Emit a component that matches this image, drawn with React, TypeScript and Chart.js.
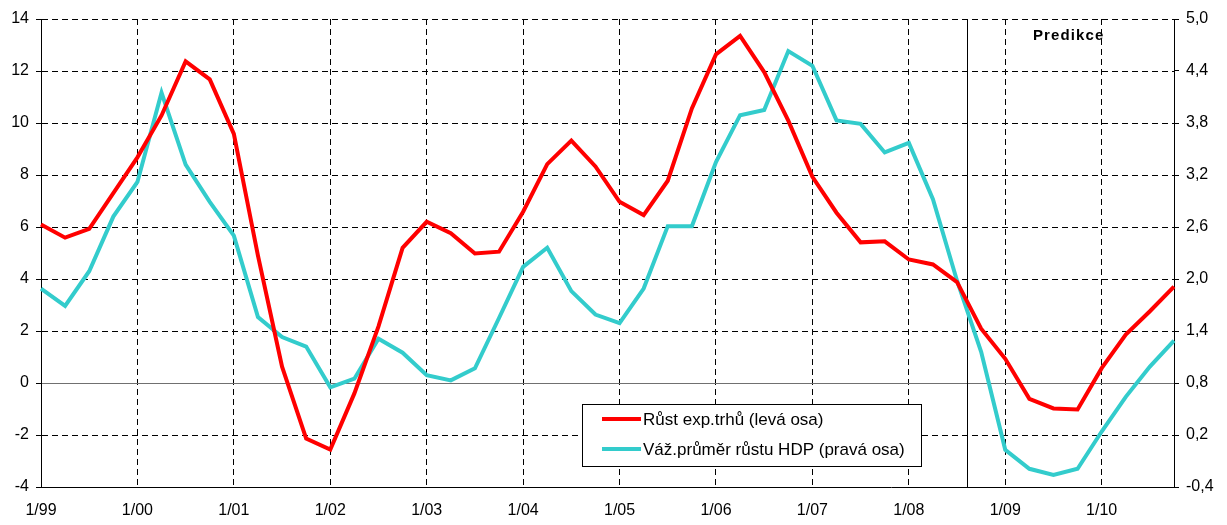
import React, { useEffect, useRef } from "react";
import { Chart, registerables } from "chart.js";

Chart.register(...registerables);

const years = ["99", "00", "01", "02", "03", "04", "05", "06", "07", "08", "09", "10"];
const quarters = ["1", "2", "3", "4"];
const categories: string[] = years.flatMap((y) => quarters.map((q) => `${q}/${y}`));

const exportMarketGrowth = [
  6.10, 5.59, 5.93, 7.3, 8.68, 10.29, 12.37, 11.68, 9.58, 4.9, 0.63, -2.14,
  -2.56, -0.40, 2.18, 5.20, 6.2, 5.76, 4.98, 5.05, 6.59, 8.42, 9.32, 8.33,
  6.97, 6.46, 7.78, 10.56, 12.64, 13.35, 11.96, 10.09, 7.93, 6.55, 5.41, 5.45,
  4.75, 4.56, 3.88, 2.09, 0.93, -0.61, -0.98, -1.02, 0.57, 1.86, 2.76, 3.71,
];

const gdpGrowthAvg = [
  1.89, 1.69, 2.09, 2.72, 3.12, 4.15, 3.32, 2.89, 2.50, 1.56, 1.33, 1.22,
  0.75, 0.85, 1.31, 1.15, 0.89, 0.83, 0.97, 1.55, 2.14, 2.36, 1.86, 1.59,
  1.49, 1.89, 2.61, 2.61, 3.35, 3.89, 3.95, 4.63, 4.46, 3.83, 3.79, 3.46,
  3.57, 2.92, 1.98, 1.16, 0.03, -0.19, -0.26, -0.19, 0.24, 0.64, 0.99, 1.29,
];

const leftTicks = [-4, -2, 0, 2, 4, 6, 8, 10, 12, 14];
const rightTicks = [-0.4, 0.2, 0.8, 1.4, 2.0, 2.6, 3.2, 3.8, 4.4, 5.0];

const seriesNames = ["Růst exp.trhů (levá osa)", "Váž.průměr růstu HDP (pravá osa)"];
const seriesColors = ["#FF0000", "#33CCCC"];
const predictionLabel = "Predikce";
const predictionStart = 38.4;

const FONT = '"Liberation Sans", Arial, sans-serif';

const overlayPlugin = {
  id: "overlay",
  beforeDatasetsDraw(chart: any) {
    const { ctx, chartArea, scales } = chart;
    const x = Math.round(scales.x.getPixelForValue(predictionStart)) + 0.5;
    ctx.save();
    ctx.strokeStyle = "#000";
    ctx.lineWidth = 1;
    ctx.beginPath();
    ctx.moveTo(x, chartArea.top);
    ctx.lineTo(x, chartArea.bottom);
    ctx.stroke();
    ctx.restore();
  },
  afterDraw(chart: any) {
    const { ctx } = chart;
    ctx.save();
    // Predikce label
    ctx.fillStyle = "#000";
    ctx.font = `bold 15px ${FONT}`;
    try {
      (ctx as any).letterSpacing = "1.1px";
    } catch (e) {}
    ctx.textAlign = "left";
    ctx.textBaseline = "alphabetic";
    ctx.fillText(predictionLabel, 1033, 39.5);
    try {
      (ctx as any).letterSpacing = "0px";
    } catch (e) {}

    // Legend box
    const bx = 582.5, by = 404.5, bw = 339, bh = 62;
    ctx.fillStyle = "#fff";
    ctx.fillRect(bx, by, bw, bh);
    ctx.strokeStyle = "#000";
    ctx.lineWidth = 1;
    ctx.strokeRect(bx, by, bw, bh);
    const rows = [419, 449];
    ctx.font = `17px ${FONT}`;
    ctx.textBaseline = "middle";
    seriesNames.forEach((name, i) => {
      ctx.strokeStyle = seriesColors[i];
      ctx.lineWidth = 4;
      ctx.beginPath();
      ctx.moveTo(602, rows[i]);
      ctx.lineTo(641, rows[i]);
      ctx.stroke();
      ctx.fillStyle = "#000";
      ctx.fillText(name, 643, rows[i] + 1);
    });
    ctx.restore();
  },
};

export default function App() {
  const canvasRef = useRef<HTMLCanvasElement | null>(null);

  useEffect(() => {
    if (!canvasRef.current) return;
    const chart = new Chart(canvasRef.current, {
      type: "line",
      data: {
        labels: categories,
        datasets: [
          {
            label: seriesNames[0],
            data: exportMarketGrowth,
            borderColor: seriesColors[0],
            backgroundColor: seriesColors[0],
            borderWidth: 4,
            pointRadius: 0,
            tension: 0,
            yAxisID: "y",
          },
          {
            label: seriesNames[1],
            data: gdpGrowthAvg,
            borderColor: seriesColors[1],
            backgroundColor: seriesColors[1],
            borderWidth: 4,
            pointRadius: 0,
            tension: 0,
            yAxisID: "y1",
          },
        ],
      },
      options: {
        responsive: false,
        animation: false,
        devicePixelRatio: 1,
        layout: { padding: { top: 19, left: 0, right: 0, bottom: 0 } },
        plugins: {
          legend: { display: false },
          tooltip: { enabled: false },
          title: { display: false },
        },
        scales: {
          x: {
            type: "category",
            offset: false,
            grid: {
              display: true,
              drawTicks: false,
              color: (c: any) => (c.index > 0 && c.index % 4 === 0 ? "#000" : "rgba(0,0,0,0)"),
              lineWidth: 1,
            },
            border: { display: true, color: "#000", width: 1, dash: [6, 4] },
            ticks: {
              autoSkip: false,
              maxRotation: 0,
              minRotation: 0,
              padding: 14,
              color: "#000",
              font: { family: FONT, size: 16 },
              callback: (_v: any, i: number) => (i % 4 === 0 ? categories[i] : ""),
            },
            afterFit: (s: any) => {
              s.height = 38;
            },
          },
          y: {
            type: "linear",
            position: "left",
            min: -4,
            max: 14,
            afterBuildTicks: (s: any) => {
              s.ticks = leftTicks.map((v) => ({ value: v }));
            },
            grid: {
              color: (c: any) => (c.tick && c.tick.value === 0 ? "#707070" : "#000"),
              tickColor: "#000",
              drawTicks: true,
              tickLength: 5,
              lineWidth: 1,
            },
            border: {
              display: true,
              color: "#000",
              width: 1,
              dash: (c: any) => (c.tick && c.tick.value === 0 ? [] : [6, 4]),
            },
            ticks: {
              padding: 7,
              color: "#000",
              font: { family: FONT, size: 16 },
              callback: (v: any) => String(v),
            },
            afterFit: (s: any) => {
              s.width = 41;
            },
          },
          y1: {
            type: "linear",
            position: "right",
            min: -0.4,
            max: 5.0,
            afterBuildTicks: (s: any) => {
              s.ticks = rightTicks.map((v) => ({ value: v }));
            },
            grid: {
              drawOnChartArea: false,
              drawTicks: true,
              tickLength: 5,
              tickColor: "#000",
              color: "#000",
            },
            border: { display: true, color: "#000", width: 1 },
            ticks: {
              padding: 7,
              color: "#000",
              font: { family: FONT, size: 16 },
              callback: (v: any) => Number(v).toFixed(1).replace(".", ","),
            },
            afterFit: (s: any) => {
              s.width = 53;
            },
          },
        },
      },
      plugins: [overlayPlugin],
    });
    return () => chart.destroy();
  }, []);

  return (
    <div style={{ position: "absolute", left: 0, top: 0, width: 1227, height: 525, background: "#fff" }}>
      <canvas ref={canvasRef} width={1227} height={525} style={{ width: 1227, height: 525, display: "block" }} />
    </div>
  );
}
